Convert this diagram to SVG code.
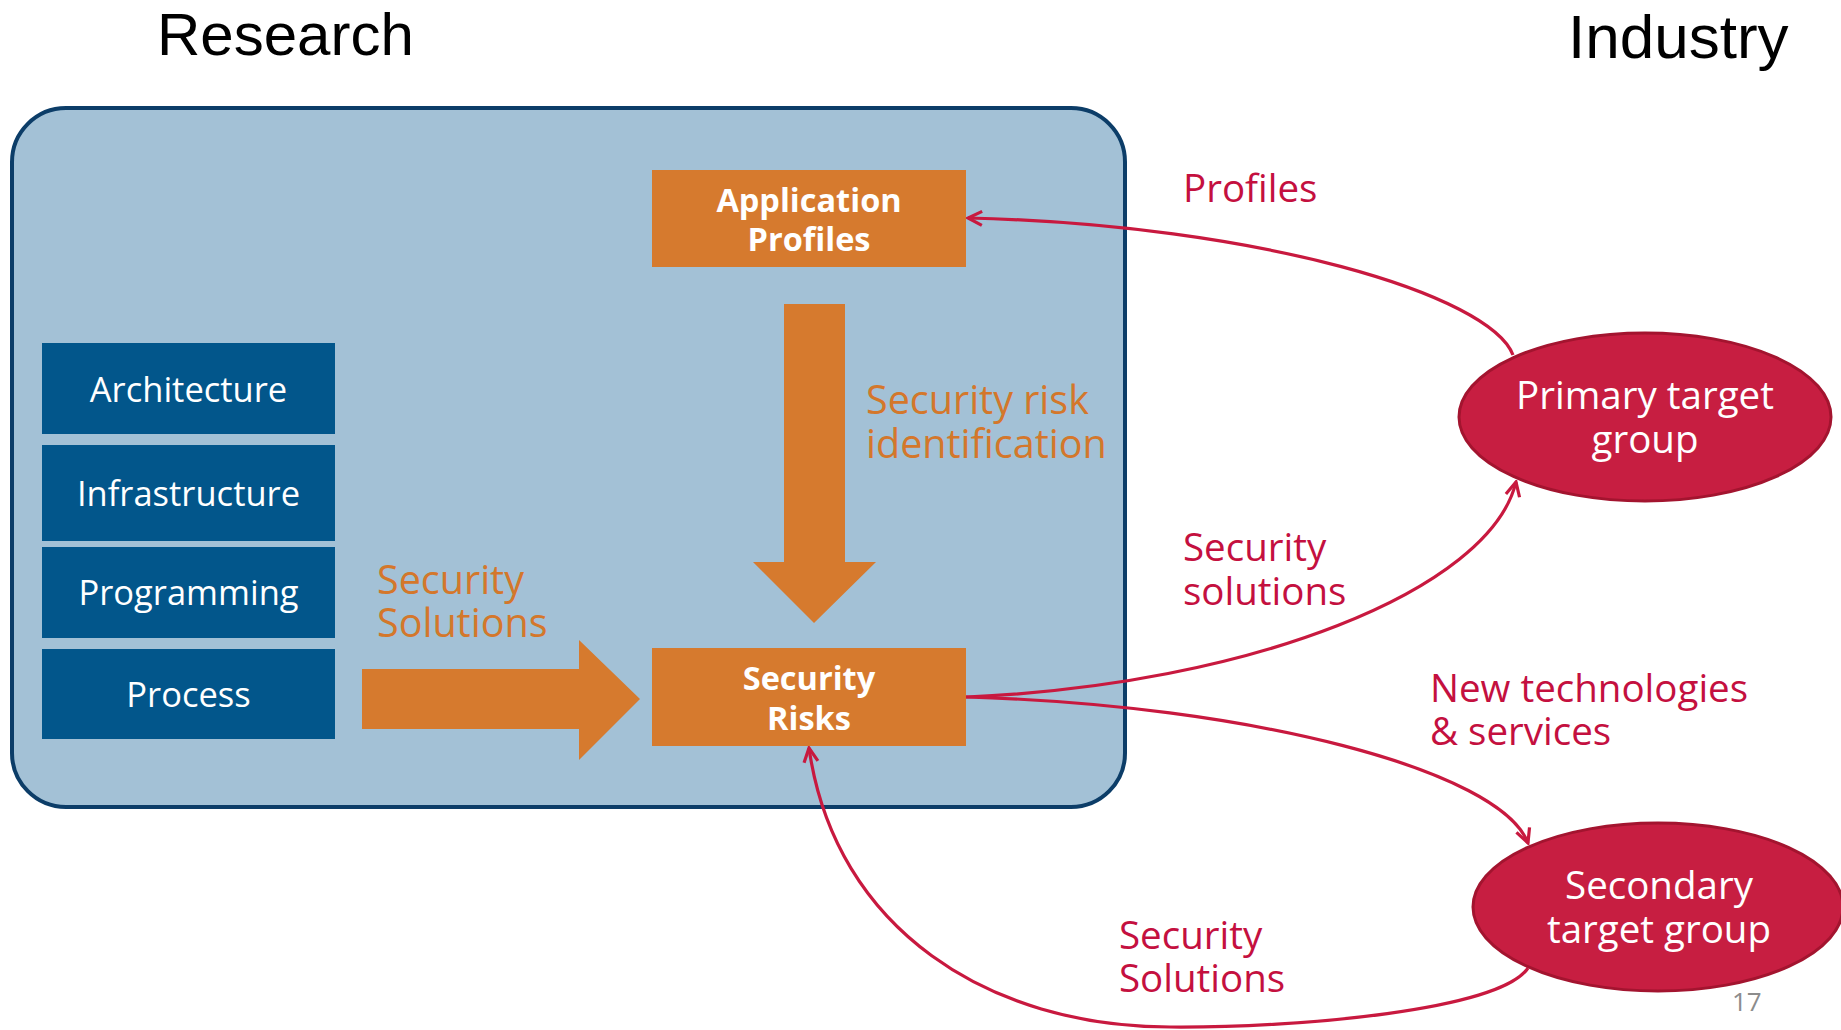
<svg xmlns="http://www.w3.org/2000/svg" width="1841" height="1030" viewBox="0 0 1841 1030">
<defs>
<style>
text{font-family:"Open Sans","Noto Sans","DejaVu Sans",sans-serif}
.title{font-family:"Liberation Sans",Arial,sans-serif;fill:#000}
.blue{fill:#02568b}
.bl{font-size:34.5px;fill:#fff;text-anchor:middle}
.ob{fill:#d67a2e}
.obt{font-size:32.5px;font-weight:bold;fill:#fff;text-anchor:middle}
.ol{font-size:39.5px;fill:#d4772b}
.rl{font-size:38.5px;fill:#c4103f}
.el{fill:#c71e41;stroke:#a3142f;stroke-width:3}
.elt{font-size:38.5px;fill:#fff;text-anchor:middle}
.con{fill:none;stroke:#c8193f;stroke-width:3.2}
</style>
<marker id="ah" viewBox="0 0 20 20" refX="18" refY="10" markerWidth="20" markerHeight="20" markerUnits="userSpaceOnUse" orient="auto">
<path d="M4,3 L18,10 L4,17" fill="none" stroke="#c8193f" stroke-width="3.2" stroke-linejoin="miter"/>
</marker>
</defs>
<rect width="1841" height="1030" fill="#fff"/>
<text class="title" x="157" y="55" font-size="60">Research</text>
<text class="title" x="1568" y="58" font-size="62">Industry</text>
<g id="research">
<rect x="12" y="108" width="1113" height="699" rx="54" ry="54" fill="#a3c1d6" stroke="#0c3d68" stroke-width="4"/>
</g>
<g id="architecture"><rect class="blue" x="42" y="343" width="293" height="91"/><text class="bl" x="188.5" y="402">Architecture</text></g>
<g id="infrastructure"><rect class="blue" x="42" y="445" width="293" height="96"/><text class="bl" x="188.5" y="506">Infrastructure</text></g>
<g id="programming"><rect class="blue" x="42" y="547" width="293" height="91"/><text class="bl" x="188.5" y="605">Programming</text></g>
<g id="process"><rect class="blue" x="42" y="649" width="293" height="90"/><text class="bl" x="188.5" y="707">Process</text></g>
<g id="app-profiles"><rect class="ob" x="652" y="170" width="314" height="97"/><text class="obt" x="809" y="212">Application</text><text class="obt" x="809" y="251">Profiles</text></g>
<g id="security-risks"><rect class="ob" x="652" y="648" width="314" height="98"/><text class="obt" x="809" y="690">Security</text><text class="obt" x="809" y="730">Risks</text></g>
<g id="risk-identification">
<polygon class="ob" points="784,304 845,304 845,562 876,562 814,623 753,562 784,562"/>
<text class="ol" x="866" y="414">Security risk</text>
<text class="ol" x="866" y="458">identification</text>
</g>
<g id="security-solutions-in">
<polygon class="ob" points="362,669 579,669 579,640 640,699 579,760 579,729 362,729"/>
<text class="ol" x="377" y="594">Security</text>
<text class="ol" x="377" y="637">Solutions</text>
</g>
<g id="primary"><ellipse class="el" cx="1645" cy="417" rx="186" ry="84"/><text class="elt" x="1645" y="409">Primary target</text><text class="elt" x="1645" y="453">group</text></g>
<g id="secondary"><ellipse class="el" cx="1658" cy="907" rx="185" ry="84"/><text class="elt" x="1659" y="899">Secondary</text><text class="elt" x="1659" y="943">target group</text></g>
<g id="connectors">
<path class="con" d="M1513,355 C1490,295 1260,225 968,218" marker-end="url(#ah)"/>
<path class="con" d="M966,697 C1250,685 1490,590 1516,482" marker-end="url(#ah)"/>
<path class="con" d="M966,697 C1250,705 1500,770 1528,843" marker-end="url(#ah)"/>
<path class="con" d="M1528,968 C1500,1010 1300,1028 1170,1027 C990,1027 835,930 809,748" marker-end="url(#ah)"/>
</g>
<g id="labels">
<text class="rl" x="1183" y="202">Profiles</text>
<text class="rl" x="1183" y="561">Security</text>
<text class="rl" x="1183" y="605">solutions</text>
<text class="rl" x="1430" y="702">New technologies</text>
<text class="rl" x="1430" y="745">&amp; services</text>
<text class="rl" x="1119" y="949">Security</text>
<text class="rl" x="1119" y="992">Solutions</text>
</g>
<text x="1732" y="1011" font-size="26" fill="#8c8c8c" font-family="Open Sans, sans-serif">17</text>
</svg>
